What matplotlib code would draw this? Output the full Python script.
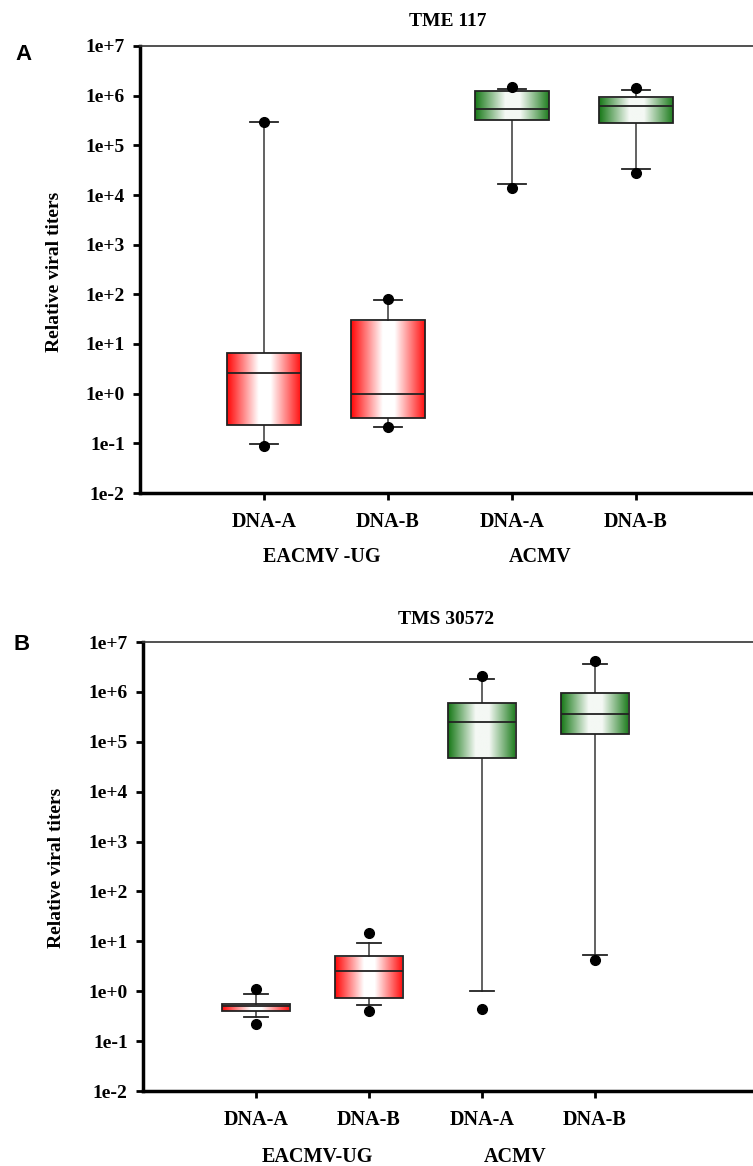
import numpy as np
import matplotlib
matplotlib.use('Agg')
import matplotlib.pyplot as plt
from matplotlib.colors import LinearSegmentedColormap

labels = ['DNA-A', 'DNA-B', 'DNA-A', 'DNA-B']
yticks = [1e-2, 1e-1, 1e0, 1e1, 1e2, 1e3, 1e4, 1e5, 1e6, 1e7]
ytick_labels = ['1e-2', '1e-1', '1e+0', '1e+1', '1e+2', '1e+3', '1e+4', '1e+5', '1e+6', '1e+7']

# panel A - TME 117
a_whislo = [0.095, 0.21, 1.64e4, 3.4e4]
a_q1 = [0.23, 0.33, 3.2e5, 2.86e5]
a_med = [2.65, 1.0, 5.4e5, 6.1e5]
a_q3 = [6.6, 30, 1.24e6, 9.3e5]
a_whishi = [2.9e5, 77, 1.34e6, 1.3e6]
a_dots = [[0.09, 2.9e5], [0.21, 80], [1.4e4, 1.5e6], [2.8e4, 1.45e6]]

# panel B - TMS 30572
b_whislo = [0.31, 0.52, 1.0, 5.3]
b_q1 = [0.41, 0.74, 4.7e4, 1.43e5]
b_med = [0.51, 2.6, 2.46e5, 3.66e5]
b_q3 = [0.55, 5.1, 6.0e5, 9.6e5]
b_whishi = [0.88, 9.4, 1.84e6, 3.6e6]
b_dots = [[0.22, 1.1], [0.41, 14.5], [0.44, 2.1e6], [4.2, 4.2e6]]

red_cm = LinearSegmentedColormap.from_list(
    'r', [(0, '#ff0a0a'), (0.42, '#ffffff'), (0.58, '#ffffff'), (1, '#ff0a0a')])
green_cm = LinearSegmentedColormap.from_list(
    'g', [(0, '#1a7a1a'), (0.4, '#f4f8f4'), (0.6, '#f4f8f4'), (1, '#1a7a1a')])
cmaps = [red_cm, red_cm, green_cm, green_cm]

W, H = 753, 1166
fig = plt.figure(figsize=(W / 100, H / 100), dpi=100)
serif = 'Liberation Serif'


def panel(rect, whislo, q1, med, q3, whishi, dots, xmax):
    ax = fig.add_axes(rect)
    ax.set_yscale('log')
    stats = []
    for i in range(4):
        stats.append({'whislo': whislo[i], 'q1': q1[i], 'med': med[i],
                      'q3': q3[i], 'whishi': whishi[i], 'fliers': []})
    pos = [1, 2, 3, 4]
    bp = ax.bxp(stats, positions=pos, widths=0.6, patch_artist=True,
                showfliers=False,
                boxprops=dict(facecolor='none', edgecolor='#222222', linewidth=1.3),
                medianprops=dict(color='#222222', linewidth=1.3),
                whiskerprops=dict(color='#555555', linewidth=1.3),
                capprops=dict(color='#222222', linewidth=1.3),
                capwidths=0.22)
    grad = np.linspace(0, 1, 256).reshape(1, -1)
    for i, box in enumerate(bp['boxes']):
        box.set_zorder(3)
        im = ax.imshow(grad, extent=[pos[i] - 0.3, pos[i] + 0.3, q1[i], q3[i]],
                       aspect='auto', cmap=cmaps[i], zorder=2, interpolation='bilinear')
        im.set_clip_path(box)
    for l in bp['medians']:
        l.set_zorder(4)
    for i in range(4):
        ax.plot([pos[i]] * len(dots[i]), dots[i], 'o', color='black',
                markersize=7, zorder=5, clip_on=False)
    ax.set_xlim(0, xmax)
    ax.set_ylim(1e-2, 1e7)
    ax.set_yticks(yticks)
    ax.set_yticklabels(ytick_labels, fontfamily=serif, fontweight='bold', fontsize=14)
    ax.yaxis.set_minor_locator(matplotlib.ticker.NullLocator())
    ax.set_xticks(pos)
    ax.set_xticklabels(labels, fontfamily=serif, fontweight='bold', fontsize=14.5)
    ax.tick_params(axis='y', direction='out', length=5, width=2, pad=6)
    ax.tick_params(axis='x', direction='out', length=5, width=2, pad=9)
    ax.spines['right'].set_visible(False)
    ax.spines['top'].set_linewidth(1.2)
    ax.spines['top'].set_color('#333333')
    ax.spines['left'].set_linewidth(2.5)
    ax.spines['bottom'].set_linewidth(2.5)
    return ax


def fx(px):
    return px / W


def fy(py):
    return 1 - py / H


axA = panel([fx(140), fy(493), 1 - fx(140), (493 - 46) / H],
            a_whislo, a_q1, a_med, a_q3, a_whishi, a_dots, (W - 140) / 124)
axB = panel([fx(143), fy(1091), 1 - fx(143), (1091 - 642) / H],
            b_whislo, b_q1, b_med, b_q3, b_whishi, b_dots, (W - 143) / 113)

txt = dict(fontfamily=serif, fontweight='bold', ha='center', va='center')
fig.text(fx(448), fy(22), 'TME 117', fontsize=14, **txt)
fig.text(fx(446), fy(619), 'TMS 30572', fontsize=14, **txt)
fig.text(fx(55), fy(272), 'Relative viral titers', fontsize=14, rotation=90, **txt)
fig.text(fx(57), fy(868), 'Relative viral titers', fontsize=14, rotation=90, **txt)
fig.text(fx(322), fy(557), 'EACMV -UG', fontsize=14.5, **txt)
fig.text(fx(540), fy(557), 'ACMV', fontsize=14.5, **txt)
fig.text(fx(317), fy(1157), 'EACMV-UG', fontsize=14.5, **txt)
fig.text(fx(515), fy(1157), 'ACMV', fontsize=14.5, **txt)
fig.text(fx(23), fy(55), 'A', fontsize=16, fontweight='bold', fontfamily='Liberation Sans',
         ha='center', va='center')
fig.text(fx(22), fy(645), 'B', fontsize=16, fontweight='bold', fontfamily='Liberation Sans',
         ha='center', va='center')

fig.savefig('out.png', dpi=100)
